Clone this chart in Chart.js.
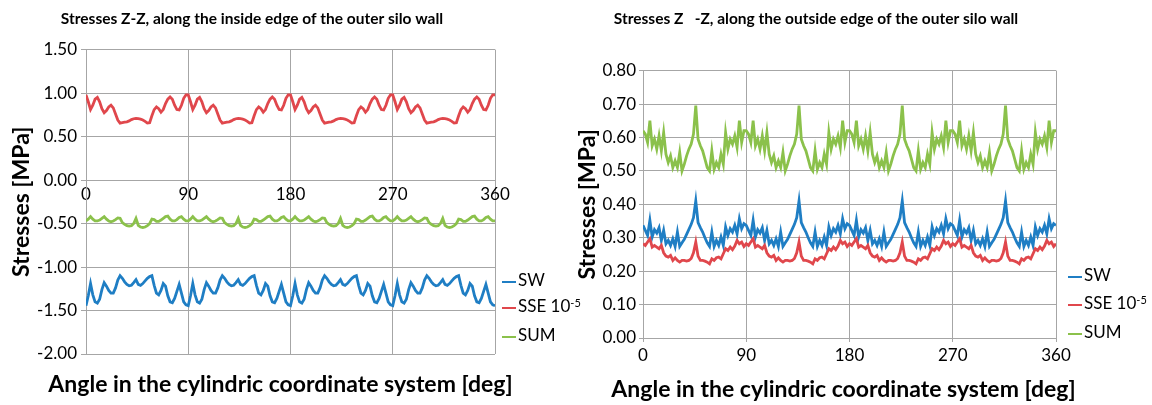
<!DOCTYPE html>
<html>
<head>
<meta charset="utf-8">
<script src="https://cdn.jsdelivr.net/npm/chart.js@4.4.1/dist/chart.umd.min.js"></script>
<style>
  body {margin: 0; background: #fff;}
  .panel {position: absolute; top: 0; width: 576px; height: 405px;}
  .legend {position: absolute; top: 0; font-family: Lato, sans-serif; font-size: 17px; color: #000;}
  .legend .item {position: absolute; left: 0; white-space: nowrap; line-height: 20px; transform: translateY(-50%);}
  .legend .swatch {display: inline-block; width: 14px; height: 2px; vertical-align: middle; margin-right: 2px;}
  .legend sup {font-size: 11px; vertical-align: top; position: relative; top: -3px;}
</style>
</head>
<body>
<div class="panel" style="left:0"><canvas id="chartInside" width="576" height="405"></canvas></div>
<div class="panel" style="left:576px"><canvas id="chartOutside" width="576" height="405"></canvas></div>
<div class="legend" id="legendInside" style="left:502px"></div>
<div class="legend" id="legendOutside" style="left:1068px"></div>
<script>
/* Angle along the wall [deg] */
const angles=[
  0,2,4,6,8,10,12,14,16,18,20,22,24,26,28,30,32,34,36,38,40,42,44,46,48,50,52,54,56,58,60,62,64,66,68,70,72,74,76,78,80,82,84,86,88,
  90,92,94,96,98,100,102,104,106,108,110,112,114,116,118,120,122,124,126,128,130,132,134,136,138,140,142,144,146,148,150,152,154,156,158,160,162,164,166,168,170,172,174,176,178,
  180,182,184,186,188,190,192,194,196,198,200,202,204,206,208,210,212,214,216,218,220,222,224,226,228,230,232,234,236,238,240,242,244,246,248,250,252,254,256,258,260,262,264,266,268,
  270,272,274,276,278,280,282,284,286,288,290,292,294,296,298,300,302,304,306,308,310,312,314,316,318,320,322,324,326,328,330,332,334,336,338,340,342,344,346,348,350,352,354,356,358,
  360
];

/* Inside edge [MPa] */
const swInside=[
  -1.445,-1.33,-1.19,-1.32,-1.40,-1.415,-1.37,-1.26,-1.18,-1.22,-1.27,-1.30,-1.30,-1.24,-1.15,-1.10,-1.13,-1.17,-1.20,-1.215,-1.21,-1.18,-1.145,-1.20,-1.21,-1.19,-1.16,-1.13,-1.11,-1.10,-1.21,-1.30,-1.32,-1.27,-1.19,-1.22,-1.33,-1.40,-1.41,-1.36,-1.28,-1.20,-1.30,-1.40,-1.435,
  -1.445,-1.33,-1.19,-1.32,-1.40,-1.415,-1.37,-1.26,-1.18,-1.22,-1.27,-1.30,-1.30,-1.24,-1.15,-1.10,-1.13,-1.17,-1.20,-1.215,-1.21,-1.18,-1.145,-1.20,-1.21,-1.19,-1.16,-1.13,-1.11,-1.10,-1.21,-1.30,-1.32,-1.27,-1.19,-1.22,-1.33,-1.40,-1.41,-1.36,-1.28,-1.20,-1.30,-1.40,-1.435,
  -1.445,-1.33,-1.19,-1.32,-1.40,-1.415,-1.37,-1.26,-1.18,-1.22,-1.27,-1.30,-1.30,-1.24,-1.15,-1.10,-1.13,-1.17,-1.20,-1.215,-1.21,-1.18,-1.145,-1.20,-1.21,-1.19,-1.16,-1.13,-1.11,-1.10,-1.21,-1.30,-1.32,-1.27,-1.19,-1.22,-1.33,-1.40,-1.41,-1.36,-1.28,-1.20,-1.30,-1.40,-1.435,
  -1.445,-1.33,-1.19,-1.32,-1.40,-1.415,-1.37,-1.26,-1.18,-1.22,-1.27,-1.30,-1.30,-1.24,-1.15,-1.10,-1.13,-1.17,-1.20,-1.215,-1.21,-1.18,-1.145,-1.20,-1.21,-1.19,-1.16,-1.13,-1.11,-1.10,-1.21,-1.30,-1.32,-1.27,-1.19,-1.22,-1.33,-1.40,-1.41,-1.36,-1.28,-1.20,-1.30,-1.40,-1.435,
  -1.445
];
const sseInside=[
  0.98,0.90,0.81,0.86,0.93,0.95,0.90,0.82,0.775,0.80,0.84,0.86,0.83,0.76,0.69,0.655,0.66,0.665,0.67,0.68,0.695,0.705,0.71,0.705,0.70,0.69,0.675,0.655,0.66,0.74,0.81,0.84,0.82,0.78,0.81,0.88,0.93,0.955,0.93,0.86,0.81,0.805,0.86,0.94,0.98,
  0.98,0.90,0.81,0.86,0.93,0.95,0.90,0.82,0.775,0.80,0.84,0.86,0.83,0.76,0.69,0.655,0.66,0.665,0.67,0.68,0.695,0.705,0.71,0.705,0.70,0.69,0.675,0.655,0.66,0.74,0.81,0.84,0.82,0.78,0.81,0.88,0.93,0.955,0.93,0.86,0.81,0.805,0.86,0.94,0.98,
  0.98,0.90,0.81,0.86,0.93,0.95,0.90,0.82,0.775,0.80,0.84,0.86,0.83,0.76,0.69,0.655,0.66,0.665,0.67,0.68,0.695,0.705,0.71,0.705,0.70,0.69,0.675,0.655,0.66,0.74,0.81,0.84,0.82,0.78,0.81,0.88,0.93,0.955,0.93,0.86,0.81,0.805,0.86,0.94,0.98,
  0.98,0.90,0.81,0.86,0.93,0.95,0.90,0.82,0.775,0.80,0.84,0.86,0.83,0.76,0.69,0.655,0.66,0.665,0.67,0.68,0.695,0.705,0.71,0.705,0.70,0.69,0.675,0.655,0.66,0.74,0.81,0.84,0.82,0.78,0.81,0.88,0.93,0.955,0.93,0.86,0.81,0.805,0.86,0.94,0.98,
  0.98
];
const sumInside=[
  -0.47,-0.45,-0.42,-0.45,-0.47,-0.47,-0.46,-0.44,-0.42,-0.45,-0.47,-0.48,-0.47,-0.455,-0.435,-0.44,-0.49,-0.51,-0.525,-0.53,-0.525,-0.50,-0.44,-0.52,-0.54,-0.545,-0.54,-0.525,-0.50,-0.45,-0.455,-0.475,-0.475,-0.46,-0.44,-0.42,-0.415,-0.45,-0.47,-0.47,-0.455,-0.43,-0.42,-0.45,-0.47,
  -0.47,-0.45,-0.42,-0.45,-0.47,-0.47,-0.46,-0.44,-0.42,-0.45,-0.47,-0.48,-0.47,-0.455,-0.435,-0.44,-0.49,-0.51,-0.525,-0.53,-0.525,-0.50,-0.44,-0.52,-0.54,-0.545,-0.54,-0.525,-0.50,-0.45,-0.455,-0.475,-0.475,-0.46,-0.44,-0.42,-0.415,-0.45,-0.47,-0.47,-0.455,-0.43,-0.42,-0.45,-0.47,
  -0.47,-0.45,-0.42,-0.45,-0.47,-0.47,-0.46,-0.44,-0.42,-0.45,-0.47,-0.48,-0.47,-0.455,-0.435,-0.44,-0.49,-0.51,-0.525,-0.53,-0.525,-0.50,-0.44,-0.52,-0.54,-0.545,-0.54,-0.525,-0.50,-0.45,-0.455,-0.475,-0.475,-0.46,-0.44,-0.42,-0.415,-0.45,-0.47,-0.47,-0.455,-0.43,-0.42,-0.45,-0.47,
  -0.47,-0.45,-0.42,-0.45,-0.47,-0.47,-0.46,-0.44,-0.42,-0.45,-0.47,-0.48,-0.47,-0.455,-0.435,-0.44,-0.49,-0.51,-0.525,-0.53,-0.525,-0.50,-0.44,-0.52,-0.54,-0.545,-0.54,-0.525,-0.50,-0.45,-0.455,-0.475,-0.475,-0.46,-0.44,-0.42,-0.415,-0.45,-0.47,-0.47,-0.455,-0.43,-0.42,-0.45,-0.47,
  -0.47
];

/* Outside edge [MPa] */
const swOutside=[
  0.337,0.322,0.307,0.352,0.302,0.324,0.314,0.33,0.292,0.322,0.282,0.292,0.277,0.297,0.274,0.317,0.274,0.285,0.295,0.31,0.325,0.34,0.36,0.41,0.345,0.33,0.317,0.30,0.285,0.274,0.317,0.274,0.292,0.277,0.302,0.277,0.332,0.307,0.327,0.317,0.337,0.312,0.357,0.327,0.342,
  0.337,0.322,0.307,0.352,0.302,0.324,0.314,0.33,0.292,0.322,0.282,0.292,0.277,0.297,0.274,0.317,0.274,0.285,0.295,0.31,0.325,0.34,0.36,0.41,0.345,0.33,0.317,0.30,0.285,0.274,0.317,0.274,0.292,0.277,0.302,0.277,0.332,0.307,0.327,0.317,0.337,0.312,0.357,0.327,0.342,
  0.337,0.322,0.307,0.352,0.302,0.324,0.314,0.33,0.292,0.322,0.282,0.292,0.277,0.297,0.274,0.317,0.274,0.285,0.295,0.31,0.325,0.34,0.36,0.41,0.345,0.33,0.317,0.30,0.285,0.274,0.317,0.274,0.292,0.277,0.302,0.277,0.332,0.307,0.327,0.317,0.337,0.312,0.357,0.327,0.342,
  0.337,0.322,0.307,0.352,0.302,0.324,0.314,0.33,0.292,0.322,0.282,0.292,0.277,0.297,0.274,0.317,0.274,0.285,0.295,0.31,0.325,0.34,0.36,0.41,0.345,0.33,0.317,0.30,0.285,0.274,0.317,0.274,0.292,0.277,0.302,0.277,0.332,0.307,0.327,0.317,0.337,0.312,0.357,0.327,0.342,
  0.337
];
const sseOutside=[
  0.282,0.277,0.287,0.297,0.272,0.277,0.272,0.267,0.277,0.255,0.245,0.242,0.247,0.232,0.24,0.232,0.227,0.232,0.232,0.23,0.232,0.238,0.255,0.287,0.245,0.232,0.232,0.23,0.227,0.222,0.237,0.232,0.24,0.242,0.237,0.252,0.267,0.262,0.272,0.264,0.275,0.292,0.282,0.287,0.274,
  0.282,0.277,0.287,0.297,0.272,0.277,0.272,0.267,0.277,0.255,0.245,0.242,0.247,0.232,0.24,0.232,0.227,0.232,0.232,0.23,0.232,0.238,0.255,0.287,0.245,0.232,0.232,0.23,0.227,0.222,0.237,0.232,0.24,0.242,0.237,0.252,0.267,0.262,0.272,0.264,0.275,0.292,0.282,0.287,0.274,
  0.282,0.277,0.287,0.297,0.272,0.277,0.272,0.267,0.277,0.255,0.245,0.242,0.247,0.232,0.24,0.232,0.227,0.232,0.232,0.23,0.232,0.238,0.255,0.287,0.245,0.232,0.232,0.23,0.227,0.222,0.237,0.232,0.24,0.242,0.237,0.252,0.267,0.262,0.272,0.264,0.275,0.292,0.282,0.287,0.274,
  0.282,0.277,0.287,0.297,0.272,0.277,0.272,0.267,0.277,0.255,0.245,0.242,0.247,0.232,0.24,0.232,0.227,0.232,0.232,0.23,0.232,0.238,0.255,0.287,0.245,0.232,0.232,0.23,0.227,0.222,0.237,0.232,0.24,0.242,0.237,0.252,0.267,0.262,0.272,0.264,0.275,0.292,0.282,0.287,0.274,
  0.282
];
const sumOutside=[
  0.62,0.61,0.585,0.65,0.575,0.595,0.565,0.605,0.56,0.615,0.55,0.525,0.545,0.51,0.53,0.51,0.555,0.50,0.52,0.545,0.565,0.58,0.61,0.695,0.595,0.575,0.56,0.535,0.51,0.50,0.56,0.505,0.525,0.51,0.55,0.52,0.615,0.565,0.595,0.58,0.605,0.57,0.65,0.585,0.62,
  0.62,0.61,0.585,0.65,0.575,0.595,0.565,0.605,0.56,0.615,0.55,0.525,0.545,0.51,0.53,0.51,0.555,0.50,0.52,0.545,0.565,0.58,0.61,0.695,0.595,0.575,0.56,0.535,0.51,0.50,0.56,0.505,0.525,0.51,0.55,0.52,0.615,0.565,0.595,0.58,0.605,0.57,0.65,0.585,0.62,
  0.62,0.61,0.585,0.65,0.575,0.595,0.565,0.605,0.56,0.615,0.55,0.525,0.545,0.51,0.53,0.51,0.555,0.50,0.52,0.545,0.565,0.58,0.61,0.695,0.595,0.575,0.56,0.535,0.51,0.50,0.56,0.505,0.525,0.51,0.55,0.52,0.615,0.565,0.595,0.58,0.605,0.57,0.65,0.585,0.62,
  0.62,0.61,0.585,0.65,0.575,0.595,0.565,0.605,0.56,0.615,0.55,0.525,0.545,0.51,0.53,0.51,0.555,0.50,0.52,0.545,0.565,0.58,0.61,0.695,0.595,0.575,0.56,0.535,0.51,0.50,0.56,0.505,0.525,0.51,0.55,0.52,0.615,0.565,0.595,0.58,0.605,0.57,0.65,0.585,0.62,
  0.62
];

const seriesNames=["SW","SSE 10<sup>-5</sup>","SUM"];
const seriesColors=["#1f7ec4","#e0474c","#8bc14b"];
const titleInside="Stresses Z-Z, along the inside edge of the outer silo wall";
const titleOutside="Stresses Z   -Z, along the outside edge of the outer silo wall";
const xAxisTitle="Angle in the cylindric coordinate system [deg]";
const yAxisTitle="Stresses [MPa]";

const gridColor="#a6a6a6";
Chart.defaults.font.family="Lato, sans-serif";
Chart.defaults.color="#000";

/**
 * Builds the three line datasets of one diagram.
 */
function buildDatasets(sw, sse, sum) {
  return [sw,sse,sum].map((values,i)=>({
    label: seriesNames[i].replace(/<[^>]+>/g,""),
    data: angles.map((a,k)=>({x: a, y: values[k]})),
    borderColor: seriesColors[i],
    backgroundColor: seriesColors[i],
    borderWidth: 2.8,
    pointRadius: 0,
    tension: 0,
    order: 3-i
  }));
}

/**
 * Fills a html legend box.
 */
function buildLegend(box, tops) {
  seriesNames.forEach((name,i)=>{
    const item=document.createElement("div");
    item.className="item";
    item.style.top=tops[i]+"px";
    item.innerHTML='<span class="swatch" style="background:'+seriesColors[i]+'"></span>'+name;
    box.appendChild(item);
  });
}

/* Bottom axis title, drawn without the width limit of the scale title (it is wider than the plot) */
const bottomTitle={
  id: 'bottomTitle',
  afterDraw(chart, args, opts) {
    const ctx=chart.ctx;
    const area=chart.chartArea;
    ctx.save();
    ctx.font="bold 23px Lato, sans-serif";
    ctx.fillStyle="#000";
    ctx.textAlign="center";
    ctx.textBaseline="middle";
    ctx.fillText(opts.text,(area.left+area.right)/2+opts.shift,opts.y);
    ctx.restore();
  }
};

const axisTitleFont={size: 23, weight: 'bold', lineHeight: 1};

/* Inside edge diagram */
new Chart(chartInside,{
  type: 'line',
  data: {datasets: buildDatasets(swInside,sseInside,sumInside)},
  plugins: [bottomTitle],
  options: {
    responsive: false,
    animation: false,
    layout: {padding: {left: 9, right: 81, top: 0, bottom: 51}},
    plugins: {
      legend: {display: false},
      tooltip: {enabled: false},
      title: {display: true, text: titleInside, font: {size: 15.5, weight: 'bold'}, padding: {top: 10, bottom: 21}},
      bottomTitle: {text: xAxisTitle, shift: -10, y: 385}
    },
    scales: {
      x: {
        type: 'linear', position: {y: 0}, min: 0, max: 360,
        ticks: {stepSize: 90, font: {size: 17}, padding: 0, maxRotation: 0},
        grid: {color: gridColor, tickLength: 4},
        border: {color: gridColor}
      },
      y: {
        min: -2, max: 1.5,
        ticks: {stepSize: 0.5, font: {size: 17}, padding: 4, callback: v=>v.toFixed(2)},
        grid: {color: gridColor, tickLength: 5},
        border: {color: gridColor},
        title: {display: true, text: yAxisTitle, font: axisTitleFont, padding: {top: 1, bottom: 0}},
        afterFit: s=>{s.width=77;}
      }
    }
  }
});

/* Outside edge diagram */
new Chart(chartOutside,{
  type: 'line',
  data: {datasets: buildDatasets(swOutside,sseOutside,sumOutside)},
  plugins: [bottomTitle],
  options: {
    responsive: false,
    animation: false,
    layout: {padding: {left: 0, right: 96, top: 0, bottom: 0}},
    plugins: {
      legend: {display: false},
      tooltip: {enabled: false},
      title: {display: true, text: titleOutside, font: {size: 15.5, weight: 'bold'}, padding: {top: 10, bottom: 42}},
      bottomTitle: {text: xAxisTitle, shift: -6, y: 390}
    },
    scales: {
      x: {
        type: 'linear', min: 0, max: 360,
        ticks: {stepSize: 90, font: {size: 17}, padding: 3, maxRotation: 0},
        grid: {color: gridColor, tickLength: 4},
        border: {color: gridColor},
        afterFit: s=>{s.height=67;}
      },
      y: {
        min: 0, max: 0.8,
        ticks: {stepSize: 0.1, font: {size: 17}, padding: 3, callback: v=>v.toFixed(2)},
        grid: {color: gridColor, tickLength: 4},
        border: {color: gridColor},
        title: {display: true, text: yAxisTitle, font: axisTitleFont, padding: {top: 0, bottom: 0}},
        afterFit: s=>{s.width=67;}
      }
    }
  }
});

buildLegend(legendInside,[280,306,335]);
buildLegend(legendOutside,[275,303,332]);
</script>
</body>
</html>
